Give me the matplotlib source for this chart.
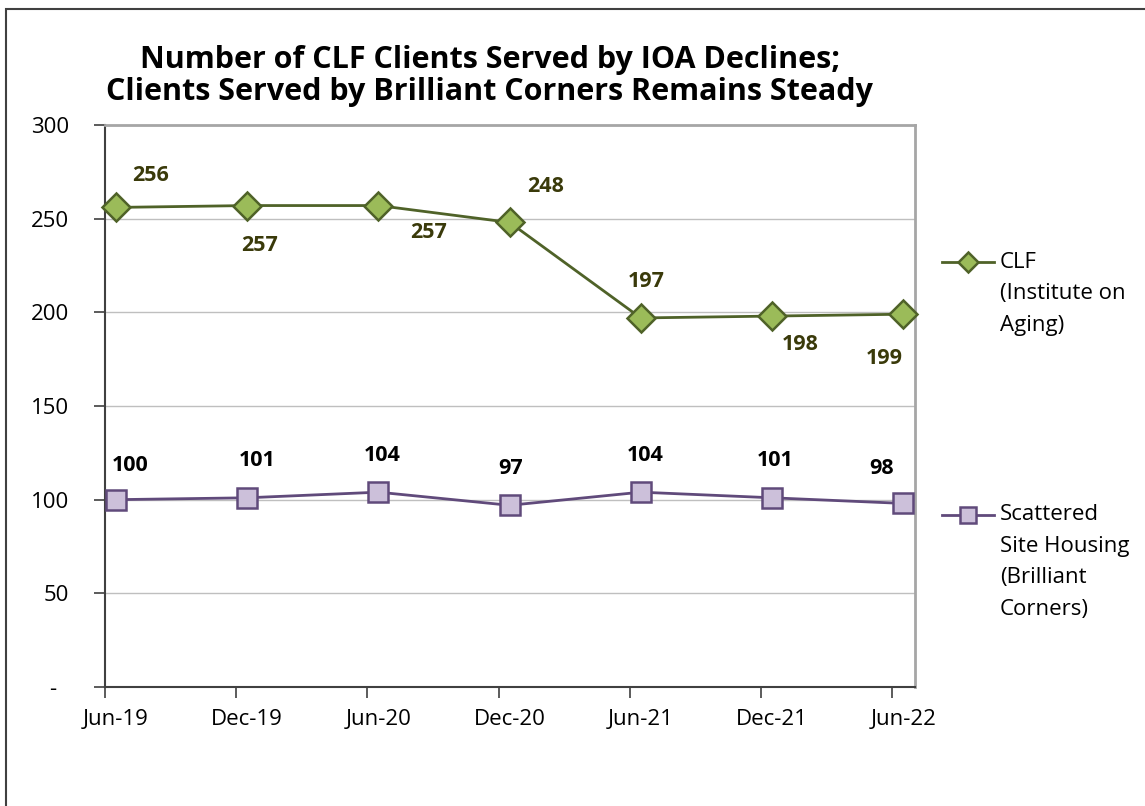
import matplotlib.pyplot as plt
from matplotlib.patches import Rectangle
from matplotlib.lines import Line2D
import matplotlib.ticker as mticker
import numpy as np

plt.rcParams['font.family'] = ['Open Sans', 'DejaVu Sans']

periods = ['Jun-19', 'Dec-19', 'Jun-20', 'Dec-20', 'Jun-21', 'Dec-21', 'Jun-22']
clf = [256, 257, 257, 248, 197, 198, 199]
ssh = [100, 101, 104, 97, 104, 101, 98]
clf_name = ['CLF', '(Institute on', 'Aging)']
ssh_name = ['Scattered', 'Site Housing', '(Brilliant', 'Corners)']
title = ('Number of CLF Clients Served by IOA Declines;\n'
         'Clients Served by Brilliant Corners Remains Steady')

# label offsets from the marker, in pixels (x right, y up)
clf_off = [(35, 32), (12, -40), (50, -27), (36, 36), (5, 36), (28, -28), (-19, -44)]
ssh_off = [(14, 34), (10, 37), (4, 37), (1, 37), (4, 37), (3, 37), (-22, 35)]

GREEN, GREEN_FILL, GREEN_TXT = '#4F6228', '#9BBB59', '#3A3A0A'
PURPLE, PURPLE_FILL = '#604A7B', '#CCC0DA'
W, H = 1145, 806

fig = plt.figure(figsize=(W / 100, H / 100), dpi=100)
ax = fig.add_axes([105 / W, 1 - 687 / H, 810 / W, 562 / H])

x = np.arange(len(periods))
ax.plot(x, clf, color=GREEN, lw=2, marker='D', ms=14, mfc=GREEN_FILL,
        mec=GREEN, mew=1.8, zorder=4, clip_on=False)
ax.plot(x, ssh, color=PURPLE, lw=2, marker='s', ms=14.5, mfc=PURPLE_FILL,
        mec=PURPLE, mew=1.8, zorder=4, clip_on=False)

for xi, v, (dx, dy) in zip(x, clf, clf_off):
    ax.annotate(str(v), (xi, v), xytext=(dx * 0.72, dy * 0.72),
                textcoords='offset points', ha='center', va='center',
                fontsize=15.5, fontweight='bold', color=GREEN_TXT)
for xi, v, (dx, dy) in zip(x, ssh, ssh_off):
    ax.annotate(str(v), (xi, v), xytext=(dx * 0.72, dy * 0.72),
                textcoords='offset points', ha='center', va='center',
                fontsize=15.5, fontweight='bold', color='black')

ax.set_xlim(-0.084, 6.09)
ax.set_ylim(0, 300)
ax.yaxis.set_major_locator(mticker.MultipleLocator(50))
ax.yaxis.set_major_formatter(mticker.FuncFormatter(
    lambda v, p: '-  ' if v == 0 else f'{v:.0f}'))
ax.tick_params(axis='y', length=8, width=1.2, color='#404040', pad=18,
               labelsize=16)
ax.grid(axis='y', color='#BFBFBF', lw=1)
ax.set_axisbelow(True)

ax.set_xticks(x - 0.084)
ax.set_xticklabels([])
ax.set_xticks(x, minor=True)
ax.set_xticklabels(periods, minor=True)
ax.tick_params(axis='x', which='major', length=8, width=1.2, color='#404040')
ax.tick_params(axis='x', which='minor', length=0, pad=16, labelsize=16)

for s in ['left', 'bottom']:
    ax.spines[s].set_color('#404040')
    ax.spines[s].set_linewidth(1.5)
for s in ['top', 'right']:
    ax.spines[s].set_color('#A6A6A6')
    ax.spines[s].set_linewidth(2)

fig.text(490 / W, 1 - 76 / H, title, ha='center', va='center',
         fontsize=22, fontweight='bold', linespacing=1.12)

# legend drawn by hand so the handle sits on the first text line
for name, ly, col, fill, mk, ms in [(clf_name, 262, GREEN, GREEN_FILL, 'D', 10),
                                    (ssh_name, 515, PURPLE, PURPLE_FILL, 's', 11)]:
    fig.add_artist(Line2D([942 / W, 994 / W], [1 - ly / H] * 2, color=col, lw=2))
    fig.add_artist(Line2D([968 / W], [1 - ly / H], marker=mk, ms=ms, mfc=fill,
                          mec=col, mew=1.8))
    for i, line in enumerate(name):
        fig.text(1000 / W, 1 - (ly + 31.5 * i) / H, line, ha='left',
                 va='center', fontsize=16)

fig.add_artist(Rectangle((6 / W, -0.05), 1.2, 1.05 - 9 / H,
                         transform=fig.transFigure, fill=False,
                         ec='#404040', lw=1.5))

fig.savefig('out.png', dpi=100)
